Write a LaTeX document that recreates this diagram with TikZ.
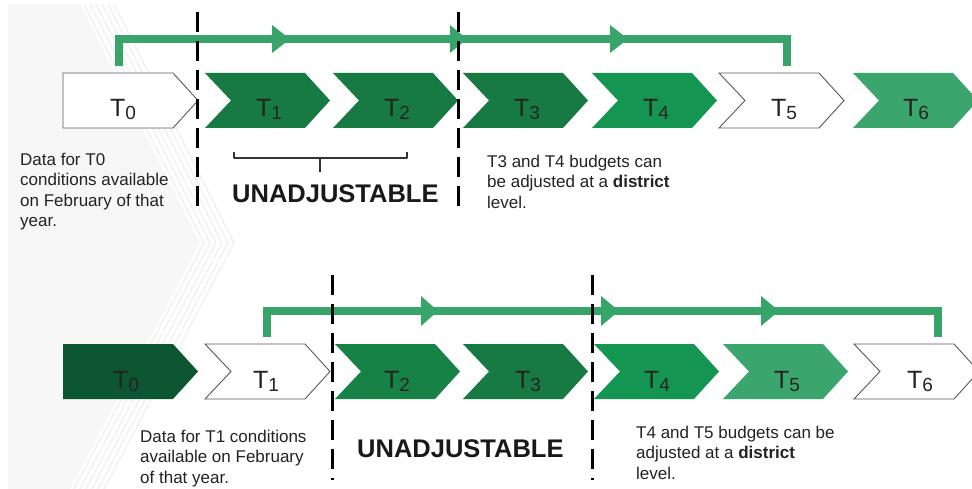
\documentclass[tikz,border=0pt]{standalone}
\usepackage{fontspec}
\setmainfont{Liberation Sans}
\definecolor{gdark}{RGB}{12,86,49}
\definecolor{gdeep}{RGB}{22,122,66}
\definecolor{gdeepb}{RGB}{22,130,70}
\definecolor{gmid}{RGB}{20,150,82}
\definecolor{glight}{RGB}{58,165,108}
\definecolor{garrow}{RGB}{55,164,106}
\definecolor{inkc}{RGB}{35,35,35}
\definecolor{panelc}{RGB}{247,247,247}
\definecolor{stripec}{RGB}{242,242,242}
% chevron: left x, top y, style
\newcommand\mychev[3]{\path[#3] (#1,#2) -- ++(100,0) -- ++(25,27.5) -- ++(-25,27.5) -- ++(-100,0) -- ++(26,-27.5) -- cycle;}
% pentagon (first period of a row)
\newcommand\mypent[3]{\path[#3] (#1,#2) -- ++(110,0) -- ++(25,27.5) -- ++(-25,27.5) -- ++(-110,0) -- cycle;}
% arrow head on a connector: tip x, y, length, half height
\newcommand\myhead[4]{\fill[garrow] (#1-#3,#2-#4) -- (#1,#2) -- (#1-#3,#2+#4) -- cycle;}
\newcommand\tsub[1]{\raisebox{-3pt}{\fontsize{19}{19}\selectfont #1}}
\begin{document}
\begin{tikzpicture}[x=1pt,y=-1pt,
  whitebox/.style={fill=white,draw=black!65,line width=0.9pt},
  lbl/.style={anchor=base,inner sep=0pt,text=inkc,font=\fontsize{25}{25}\selectfont},
  txt/.style={anchor=north west,inner sep=0pt,align=left,text=inkc,font=\fontsize{17}{20.5}\selectfont},
  unadj/.style={anchor=base west,inner sep=0pt,text=black!90,font=\fontsize{25.5}{25.5}\selectfont\bfseries},
  conn/.style={draw=garrow,line width=8pt},
  divider/.style={draw=black,line width=3pt,dash pattern=on 20pt off 9pt},
  brk/.style={draw=black!80,line width=1.5pt,line join=round}]
\useasboundingbox (0,0) rectangle (972,489);
\fill[white] (0,0) rectangle (972,489);
% soft grey panel at the left
\fill[panelc] (8,4) -- (80,4) -- (200,243) -- (70,489) -- (8,489) -- cycle;
\foreach \d in {4,10,16,22,28,34}
  \draw[stripec,line width=1.6pt] (80+\d,4) -- (200+\d,243) -- (70+\d,489);

% ---------- upper timeline ----------
\coordinate (s1) at (118.5,66);
\coordinate (e1) at (787,66);
\draw[conn] (s1) -- ++(0,-27) -| (e1);
\myhead{290}{39}{18}{14}
\myhead{467}{39}{17}{14}
\myhead{628}{39}{18}{14}

\mypent{63}{73}{whitebox}
\mychev{205}{73}{fill=gdeep}
\mychev{333}{73}{fill=gdeep}
\mychev{463}{73}{fill=gdeep}
\mychev{592}{73}{fill=gmid}
\mychev{719}{73}{whitebox}
\mychev{853}{73}{fill=glight}

\node[lbl] (a0) at (123,117) {T\tsub{0}};
\node[lbl] (a1) at (269,117) {T\tsub{1}};
\node[lbl] (a2) at (397,117) {T\tsub{2}};
\node[lbl] (a3) at (527,117) {T\tsub{3}};
\node[lbl] (a4) at (656,117) {T\tsub{4}};
\node[lbl] (a5) at (784,117) {T\tsub{5}};
\node[lbl] (a6) at (916,117) {T\tsub{6}};

\draw[divider] (197,12) -- (197,215);
\draw[divider] (458,12) -- (458,215);

\draw[brk] (234,152) -- (234,158) -- (407,158) -- (407,152);
\draw[brk] (320,158) -- (320,172);

\node[txt] (n1) at (20,152.6) {Data for T0\\conditions available\\on February of that\\year.};
\node[unadj] (u1) at (232,203) {UNADJUSTABLE};
\node[txt] (m1) at (487,154.6) {T3 and T4 budgets can\\be adjusted at a \textbf{district}\\level.};

% ---------- lower timeline ----------
\coordinate (s2) at (267,337);
\coordinate (e2) at (938,337);
\draw[conn] (s2) -- ++(0,-26) -| (e2);
\myhead{438}{311}{17}{15}
\myhead{619}{311}{18}{15}
\myhead{779}{311}{18}{15}

\mypent{63}{344}{fill=gdark}
\mychev{205}{344}{whitebox}
\mychev{335}{344}{fill=gdeepb}
\mychev{463}{344}{fill=gdeep}
\mychev{594}{344}{fill=gmid}
\mychev{723}{344}{fill=glight}
\mychev{854}{344}{whitebox}

\node[lbl] (b0) at (126,388) {T\tsub{0}};
\node[lbl] (b1) at (266,388) {T\tsub{1}};
\node[lbl] (b2) at (397,388) {T\tsub{2}};
\node[lbl] (b3) at (528,388) {T\tsub{3}};
\node[lbl] (b4) at (657,388) {T\tsub{4}};
\node[lbl] (b5) at (787,388) {T\tsub{5}};
\node[lbl] (b6) at (920,388) {T\tsub{6}};

\draw[divider] (332,275) -- (332,480);
\draw[divider] (592,275) -- (592,480);

\node[txt] (n2) at (140,429.6) {Data for T1 conditions\\available on February\\of that year.};
\node[unadj] (u2) at (357,457) {UNADJUSTABLE};
\node[txt] (m2) at (636,425.6) {T4 and T5 budgets can be\\adjusted at a \textbf{district}\\level.};
\end{tikzpicture}
\end{document}
